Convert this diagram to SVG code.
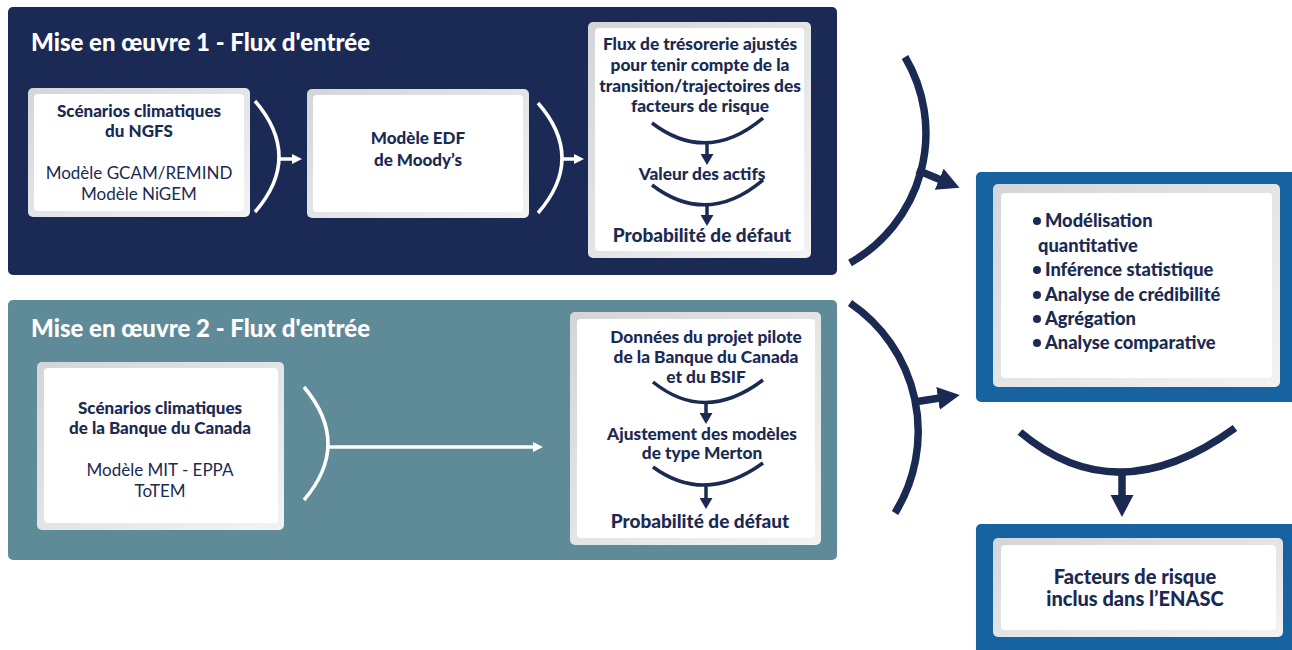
<svg xmlns="http://www.w3.org/2000/svg" width="1292" height="650" viewBox="0 0 1292 650">
<defs>
<linearGradient id="frame" x1="0" y1="0" x2="1" y2="1">
<stop offset="0" stop-color="#d3d5d9"/>
<stop offset="1" stop-color="#f3f3f4"/>
</linearGradient>
<marker id="hw" markerUnits="userSpaceOnUse" markerWidth="10" markerHeight="10" refX="1" refY="5" orient="auto">
<path d="M0,0 L10,5 L0,10 z" fill="#ffffff"/>
</marker>
<marker id="hn" markerUnits="userSpaceOnUse" markerWidth="13" markerHeight="13" refX="1" refY="6.5" orient="auto">
<path d="M0,0 L11,6.5 L0,13 z" fill="#1b2a52"/>
</marker>
<marker id="hb" markerUnits="userSpaceOnUse" markerWidth="24" markerHeight="24" refX="2" refY="11.5" orient="auto">
<path d="M0,0 L22,11.5 L0,23 z" fill="#1b2a52"/>
</marker>
<style>
text{font-family:Lato,"Liberation Sans",Arial,sans-serif;fill:#1b2a52;text-anchor:middle}
.b{font-weight:900}
.t{font-weight:900;fill:#ffffff;font-size:24px;text-anchor:start}
.f{fill:url(#frame)}
.w{fill:#ffffff}
.cw{fill:none;stroke:#ffffff;stroke-width:3.5}
.cn{fill:none;stroke:#1b2a52;stroke-width:3.5}
.cb{fill:none;stroke:#1b2a52;stroke-width:7.5}
.li{font-weight:900;font-size:18.3px;text-anchor:start}
</style>
</defs>

<g id="panel1">
<rect x="8" y="7" width="829" height="268" rx="5" fill="#1a2a55"/>
<text class="t" x="31" y="51">Mise en œuvre 1 - Flux d'entrée</text>
</g>
<g id="panel2">
<rect x="8" y="300" width="829" height="260" rx="5" fill="#5f8a98"/>
<text class="t" x="31" y="337">Mise en œuvre 2 - Flux d'entrée</text>
</g>

<g id="ngfs">
<rect class="f" x="28" y="88" width="222" height="129" rx="5"/>
<rect class="w" x="34" y="94" width="210" height="117" rx="4"/>
<text class="b" font-size="17" x="139" y="117">Scénarios climatiques</text>
<text class="b" font-size="17" x="139" y="137">du NGFS</text>
<text font-size="17" x="139" y="179">Modèle GCAM/REMIND</text>
<text font-size="17" x="139" y="200">Modèle NiGEM</text>
</g>

<g id="edf">
<rect class="f" x="307" y="89" width="222" height="129" rx="5"/>
<rect class="w" x="313" y="95" width="210" height="117" rx="4"/>
<text class="b" font-size="17" x="418" y="144">Modèle EDF</text>
<text class="b" font-size="17" x="418" y="166">de Moody’s</text>
</g>

<g id="flux">
<rect class="f" x="588" y="22" width="223" height="236" rx="5"/>
<rect class="w" x="595" y="28" width="209" height="223" rx="4"/>
<text class="b" font-size="17.3" x="700" y="50">Flux de trésorerie ajustés</text>
<text class="b" font-size="17.3" x="700" y="71">pour tenir compte de la</text>
<text class="b" font-size="17.3" x="700" y="92">transition/trajectoires des</text>
<text class="b" font-size="17.3" x="700" y="112">facteurs de risque</text>
<text class="b" font-size="17.3" x="702" y="180">Valeur des actifs</text>
<text class="b" font-size="19" x="702" y="242">Probabilité de défaut</text>
</g>

<g id="boc">
<rect class="f" x="37" y="362" width="247" height="168" rx="5"/>
<rect class="w" x="44" y="368" width="234" height="155" rx="4"/>
<text class="b" font-size="17" x="160" y="414">Scénarios climatiques</text>
<text class="b" font-size="17" x="160" y="434">de la Banque du Canada</text>
<text font-size="17" x="160" y="476">Modèle MIT - EPPA</text>
<text font-size="17" x="160" y="497">ToTEM</text>
</g>

<g id="pilote">
<rect class="f" x="570" y="312" width="251" height="233" rx="5"/>
<rect class="w" x="577" y="319" width="238" height="219" rx="4"/>
<text class="b" font-size="17.3" x="706" y="343">Données du projet pilote</text>
<text class="b" font-size="17.3" x="706" y="363">de la Banque du Canada</text>
<text class="b" font-size="17.3" x="706" y="383">et du BSIF</text>
<text class="b" font-size="17.3" x="702" y="440">Ajustement des modèles</text>
<text class="b" font-size="17.3" x="702" y="459">de type Merton</text>
<text class="b" font-size="19" x="700" y="528">Probabilité de défaut</text>
</g>

<g id="methods">
<rect x="976" y="172" width="330" height="230" rx="5" fill="#1762a0"/>
<rect class="f" x="993" y="184" width="287" height="203" rx="5"/>
<rect class="w" x="1001" y="193" width="271" height="185" rx="4"/>
<circle cx="1037" cy="221" r="4" fill="#1b2a52"/>
<text class="li" x="1045" y="227">Modélisation</text>
<text class="li" x="1038" y="252">quantitative</text>
<circle cx="1037" cy="270" r="4" fill="#1b2a52"/>
<text class="li" x="1045" y="276">Inférence statistique</text>
<circle cx="1037" cy="295" r="4" fill="#1b2a52"/>
<text class="li" x="1045" y="301">Analyse de crédibilité</text>
<circle cx="1037" cy="319" r="4" fill="#1b2a52"/>
<text class="li" x="1045" y="325">Agrégation</text>
<circle cx="1037" cy="343" r="4" fill="#1b2a52"/>
<text class="li" x="1045" y="349">Analyse comparative</text>
</g>

<g id="enasc">
<rect x="976" y="524" width="330" height="140" rx="5" fill="#1762a0"/>
<rect class="f" x="993" y="538" width="290" height="99" rx="5"/>
<rect class="w" x="1001" y="545" width="275" height="85" rx="4"/>
<text class="b" font-size="20" x="1135" y="584">Facteurs de risque</text>
<text class="b" font-size="20" x="1135" y="606">inclus dans l’ENASC</text>
</g>

<g id="connectors">
<path class="cw" d="M255,101 Q303,157 255,212"/>
<line class="cw" stroke-width="3" x1="278" y1="159" x2="293" y2="159" marker-end="url(#hw)"/>
<path class="cw" d="M538,103 Q586,158 538,213"/>
<line class="cw" stroke-width="3" x1="561" y1="159" x2="575" y2="159" marker-end="url(#hw)"/>
<path class="cw" d="M304,387 Q352,444 304,500"/>
<line class="cw" stroke-width="2.5" x1="327" y1="447" x2="534" y2="447" marker-end="url(#hw)"/>

<path class="cn" d="M652,123 Q707,165 763,118"/>
<line class="cn" stroke-width="3" x1="707" y1="142" x2="707" y2="155" marker-end="url(#hn)"/>
<path class="cn" d="M652,185 Q707,227 763,180"/>
<line class="cn" stroke-width="3" x1="707" y1="204" x2="707" y2="216" marker-end="url(#hn)"/>
<path class="cn" d="M653,382 Q705,424 763,380"/>
<line class="cn" stroke-width="3" x1="706" y1="401" x2="706" y2="414" marker-end="url(#hn)"/>
<path class="cn" d="M653,467 Q705,505 763,463"/>
<line class="cn" stroke-width="3" x1="706" y1="484" x2="706" y2="499" marker-end="url(#hn)"/>

<path class="cb" d="M905,57 A149,149 0 0 1 850,263"/>
<line class="cb" x1="917" y1="170" x2="941" y2="180" marker-end="url(#hb)"/>
<path class="cb" d="M850,303 A155,155 0 0 1 895,513"/>
<line class="cb" x1="914" y1="402" x2="940" y2="398" marker-end="url(#hb)"/>
<path class="cb" d="M1020,432 Q1117,514 1235,428"/>
<line class="cb" x1="1122" y1="471" x2="1122" y2="497" marker-end="url(#hb)"/>
</g>
</svg>
